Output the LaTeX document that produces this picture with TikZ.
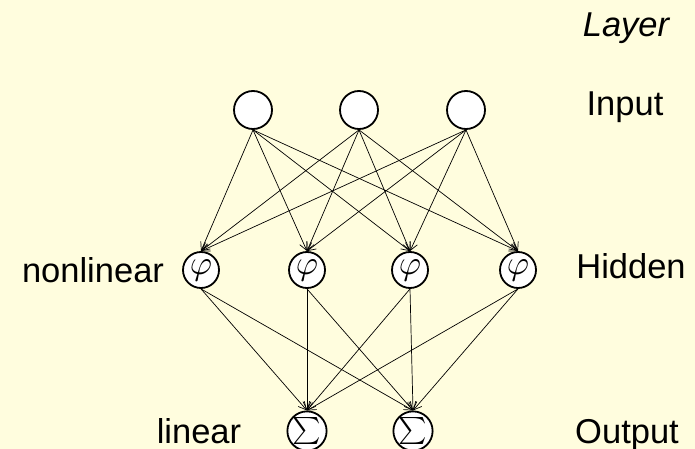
\documentclass[tikz,border=0pt]{standalone}
\usepackage{fontspec}
\setmainfont{Liberation Sans}
\usetikzlibrary{arrows.meta}
\definecolor{bgyellow}{RGB}{255,253,222}
\begin{document}
\begin{tikzpicture}[x=1pt,y=-1pt,
  neuron/.style={circle,draw=black,line width=1.8pt,fill=white,minimum size=38pt,inner sep=0pt},
  conn/.style={draw=black,line width=0.7pt,-{Straight Barb[length=8pt,width=8pt,line width=0.7pt]}},
  lbl/.style={inner sep=0pt,anchor=base,font=\fontsize{34.5}{40}\selectfont}]
\fill[bgyellow] (0,0) rectangle (695,449);
\useasboundingbox (0,0) rectangle (695,449);
% input layer
\node[neuron] (i1) at (253,110) {};
\node[neuron] (i2) at (359,110) {};
\node[neuron] (i3) at (466,110) {};
% hidden layer
\foreach \n/\x in {1/201,2/307,3/410,4/518}
  \node[neuron,minimum size=36pt] (h\n) at (\x,270) {\scalebox{3.4}{$\varphi$}};
% output layer
\node[neuron] (o1) at (307,431) {\scalebox{2.7}{$\sum$}};
\node[neuron] (o2) at (413,431) {\scalebox{2.7}{$\sum$}};
% connections
\foreach \i in {1,2,3}
  \foreach \h in {1,2,3,4}
    \draw[conn] (i\i.south) -- (h\h.north);
\foreach \h in {1,2,3,4}
  \foreach \o in {1,2}
    \draw[conn] (h\h.south) -- (o\o.north);
% labels
\node[lbl] (layer) at (626,37) {\itshape Layer};
\node[lbl] (input) at (625,116) {Input};
\node[lbl] (hidden) at (631,278) {Hidden};
\node[lbl] (output) at (627,443) {Output};
\node[lbl] (nonlin) at (93,282) {nonlinear};
\node[lbl] (lin) at (199,443) {linear};
\end{tikzpicture}
\end{document}
